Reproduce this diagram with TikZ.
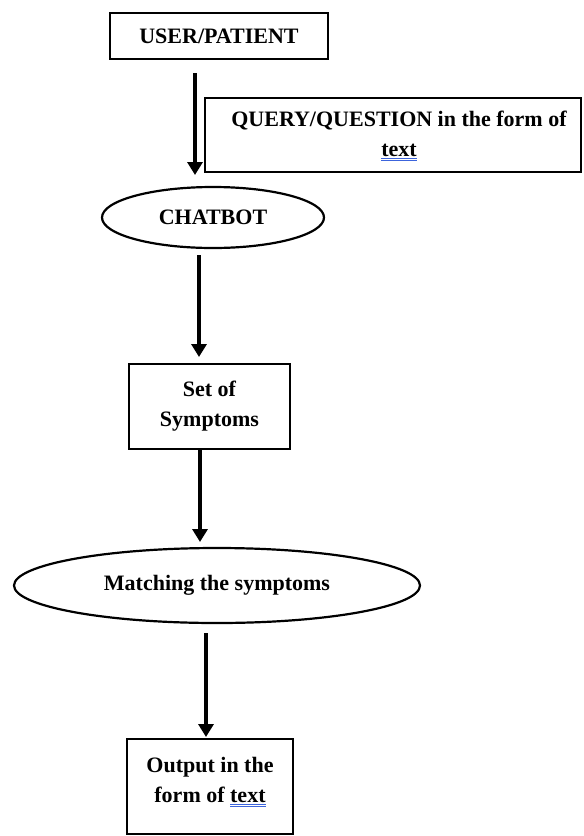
\documentclass[tikz,border=0pt]{standalone}
\usepackage{fontspec}
\setmainfont{Liberation Serif}
\usetikzlibrary{shapes.geometric,arrows.meta}
\definecolor{spellblue}{RGB}{60,100,220}
\newcommand\spellul[1]{\setbox0\hbox{#1}\rlap{\textcolor{spellblue}{\rule[-3.2pt]{\wd0}{0.9pt}}}\rlap{\textcolor{spellblue}{\rule[-5.2pt]{\wd0}{0.9pt}}}\box0}
\begin{document}
\begin{tikzpicture}[x=1pt,y=-1pt,
  lbl/.style={font=\fontsize{22}{30}\selectfont\bfseries,align=center,text=black},
  box/.style={draw,line width=2.2pt,rectangle,inner sep=0pt,outer sep=0pt,lbl},
  oval/.style={draw,line width=2.2pt,ellipse,inner sep=0pt,outer sep=0pt,lbl},
  arr/.style={line width=4pt,-{Triangle[width=15pt,length=13pt]}}]
\useasboundingbox (0,0) rectangle (584,836);

\node[box,minimum width=218pt,minimum height=46pt] (user) at (219,36) {USER/PATIENT};
\node[box,minimum width=376pt,minimum height=74pt] (query) at (393,135) {};
\node[lbl] (querytxt) at (399,136) {QUERY/QUESTION in the form of\\\spellul{text}};
\node[oval,minimum width=222pt,minimum height=61pt] (chat) at (213,217.5) {CHATBOT};
\node[box,minimum width=161pt,minimum height=85pt] (set) at (209.5,406.5) {Set of\\Symptoms};
\node[oval,minimum width=406pt,minimum height=75pt] (match) at (217,585.5) {Matching the symptoms};
\node[box,minimum width=166pt,minimum height=95pt] (out) at (210,786.5) {};
\node[lbl] (outtxt) at (210,782) {Output in the\\form of \spellul{text}};

\draw[arr] ([xshift=-24pt,yshift=-14pt]user.south) -- ([xshift=-18pt,yshift=12pt]chat.north);
\draw[arr] ([xshift=-14pt,yshift=-7pt]chat.south) -- ([xshift=-10.5pt,yshift=7pt]set.north);
\draw[arr] ([xshift=-9.5pt]set.south) -- ([xshift=-17pt,yshift=6pt]match.north);
\draw[arr] ([xshift=-11pt,yshift=-10pt]match.south) -- ([xshift=-4pt,yshift=2pt]out.north);
\end{tikzpicture}
\end{document}
